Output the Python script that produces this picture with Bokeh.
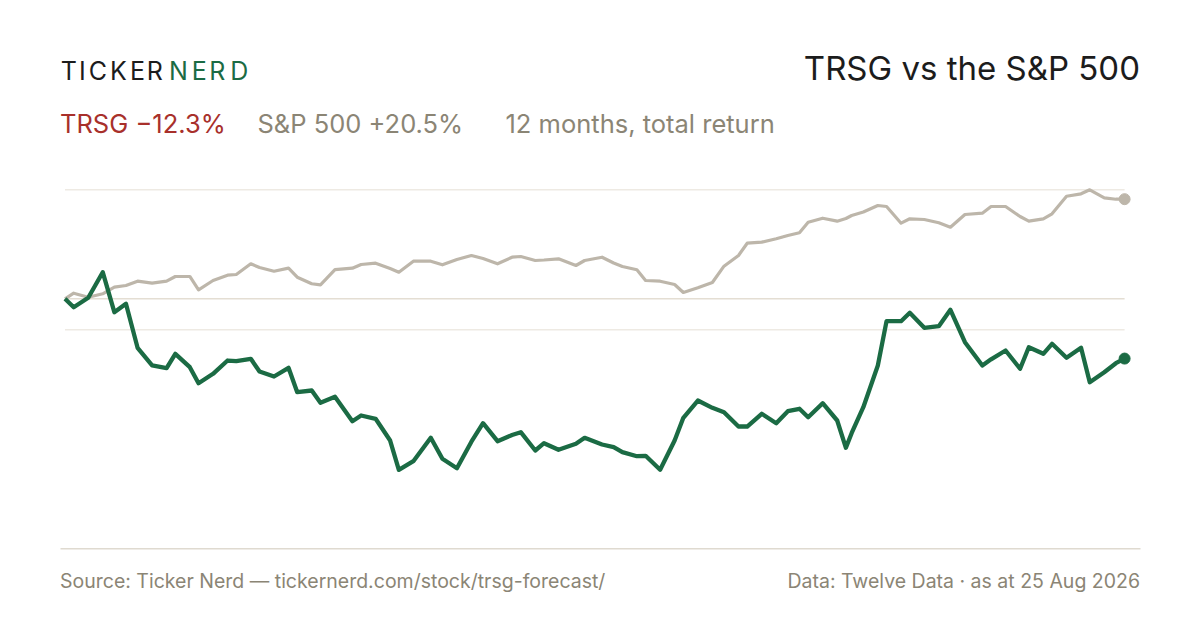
from bokeh.embed import file_html
from bokeh.models import ColumnDataSource, Label
from bokeh.plotting import figure
from bokeh.resources import INLINE

# days since 25 Aug 2025, roughly every third trading day
days = [0, 3, 8, 13, 17, 21, 25, 30, 35, 38, 43, 46, 51, 56, 59, 64, 67, 72, 77, 80,
        85, 88, 93, 99, 102, 107, 112, 115, 120, 126, 130, 135, 140, 144, 149, 154, 157, 162, 165, 170,
        176, 179, 185, 189, 192, 197, 200, 205, 210, 213, 218, 223, 227, 232, 235, 240, 245, 249, 253, 256,
        261, 266, 269, 271, 275, 280, 283, 288, 291, 296, 301, 305, 310, 316, 319, 324, 329, 332, 337, 340,
        345, 350, 353, 358, 362, 365]

# total return, %
sp500 = [0, 1.15, 0.33, 1.03, 2.39, 2.74, 3.62, 3.21, 3.62, 4.59, 4.59, 1.85, 3.77, 4.86, 5.00, 7.20,
         6.44, 5.68, 6.30, 4.44, 3.09, 2.88, 5.99, 6.30, 7.06, 7.33, 6.23, 5.47, 7.74, 7.74, 7.00, 8.09,
         8.91, 8.29, 7.20, 8.56, 8.70, 7.88, 7.98, 8.23, 6.85, 7.88, 8.56, 7.37, 6.65, 5.97, 3.77, 3.62,
         2.94, 1.30, 2.26, 3.35, 6.71, 8.91, 11.44, 11.65, 12.35, 13.02, 13.58, 15.76, 16.58, 15.97, 16.52,
         17.14, 17.86, 19.20, 18.99, 15.56, 16.46, 16.32, 15.64, 14.73, 17.35, 17.61, 18.99, 18.99, 16.93,
         15.97, 16.46, 17.49, 21.11, 21.60, 22.43, 20.78, 20.49, 20.5]

trsg = [0, -1.73, 0.21, 5.47, -2.76, -1.03, -10.08, -13.72, -14.28, -11.32, -14.07, -17.37, -15.43,
        -12.70, -12.84, -12.35, -14.96, -15.99, -14.20, -19.22, -18.87, -21.40, -20.16, -25.19, -24.01,
        -24.69, -29.16, -35.19, -33.42, -28.60, -32.92, -34.86, -29.40, -25.60, -29.30, -28.02, -27.45,
        -31.21, -29.71, -31.07, -29.84, -28.60, -29.98, -30.53, -31.56, -32.39, -32.30, -35.19, -29.16,
        -24.49, -20.93, -22.43, -23.33, -26.28, -26.28, -23.66, -25.60, -23.13, -22.63, -24.36, -21.48,
        -25.04, -30.66, -27.60, -22.30, -13.72, -4.61, -4.61, -2.88, -5.97, -5.64, -2.26, -8.93, -13.72,
        -12.45, -10.64, -14.40, -9.96, -11.32, -9.26, -12.14, -10.08, -17.16, -15.10, -13.25, -12.3]

GREEN = "#1b6b44"
SAND = "#bdb6aa"
MUTED = "#8b8575"
RED = "#a8302b"
INK = "#1c1c1c"
FONT = "Inter"

W, H = 1184, 614
# pixel -> data helpers
PX_DAY = 2.903
PX_PCT = 4.86
LIFT = 9  # labels sit a bit low with alphabetic baseline


def dx(px):
    return (px - 64.5) / PX_DAY


def dy(py):
    return (298.3 - py) / PX_PCT


p = figure(width=W, height=H, x_range=(dx(0), dx(W)), y_range=(dy(H), dy(0)),
           toolbar_location=None, output_backend="svg", x_axis_location=None,
           y_axis_location=None, min_border=0, outline_line_color=None)
p.grid.visible = False
p.background_fill_color = "white"
p.border_fill_color = "white"

# guide lines: top of range, middle of range, and zero
top = max(sp500)
mid = (max(sp500) + min(trsg)) / 2
p.segment(x0=[days[0]] * 2, x1=[days[-1]] * 2, y0=[top, mid], y1=[top, mid],
          line_color="#eeeae3", line_width=1.5)
p.segment(x0=[days[0]], x1=[days[-1]], y0=[0], y1=[0], line_color="#e4ded3", line_width=1.5)

src = ColumnDataSource(dict(day=days, sp=sp500, tr=trsg))
p.line("day", "sp", source=src, line_color=SAND, line_width=3.2, line_join="round")
p.line("day", "tr", source=src, line_color=GREEN, line_width=4.3, line_join="round")
p.scatter([days[-1]], [sp500[-1]], size=11, color=SAND)
p.scatter([days[-1]], [trsg[-1]], size=11, color=GREEN)

# footer rule
p.segment(x0=[dx(60)], x1=[dx(1140)], y0=[dy(548.3)], y1=[dy(548.3)],
          line_color="#dfdad0", line_width=1.5)

# logo, letter by letter for the tracking
logo = [("T", 60.2, INK), ("I", 78.6, INK), ("C", 88.2, INK), ("K", 109.6, INK),
        ("E", 129.6, INK), ("R", 146.3, INK), ("N", 168.6, GREEN), ("E", 191.3, GREEN),
        ("R", 208.7, GREEN), ("D", 229.7, GREEN)]
for ch, px, col in logo:
    p.add_layout(Label(x=dx(px), y=dy(79 - LIFT), text=ch, text_font=FONT, text_font_size="25px",
                       text_color=col, text_baseline="alphabetic"))

p.add_layout(Label(x=dx(1139.5), y=dy(77.3 - LIFT - 1), text="TRSG vs the S&P 500", text_font=FONT,
                   text_font_size="33px", text_color=INK, text_align="right",
                   text_baseline="alphabetic"))

for txt, px, col in [("TRSG \u221212.3%", 59.5, RED), ("S&P 500 +20.5%", 257, MUTED),
                     ("12 months, total return", 505, MUTED)]:
    p.add_layout(Label(x=dx(px), y=dy(132.3 - LIFT), text=txt, text_font=FONT, text_font_size="25.5px",
                       text_color=col, text_baseline="alphabetic"))

p.add_layout(Label(x=dx(59.5), y=dy(588.3 - LIFT + 1),
                   text="Source: Ticker Nerd \u2014 tickernerd.com/stock/trsg-forecast/",
                   text_font=FONT, text_font_size="19.5px", text_color=MUTED,
                   text_baseline="alphabetic"))
p.add_layout(Label(x=dx(1139.5), y=dy(588.3 - LIFT + 1), text="Data: Twelve Data \u00b7 as at 25 Aug 2026",
                   text_font=FONT, text_font_size="19.5px", text_color=MUTED, text_align="right",
                   text_baseline="alphabetic"))

open("out.html", "w").write(file_html(p, INLINE))
